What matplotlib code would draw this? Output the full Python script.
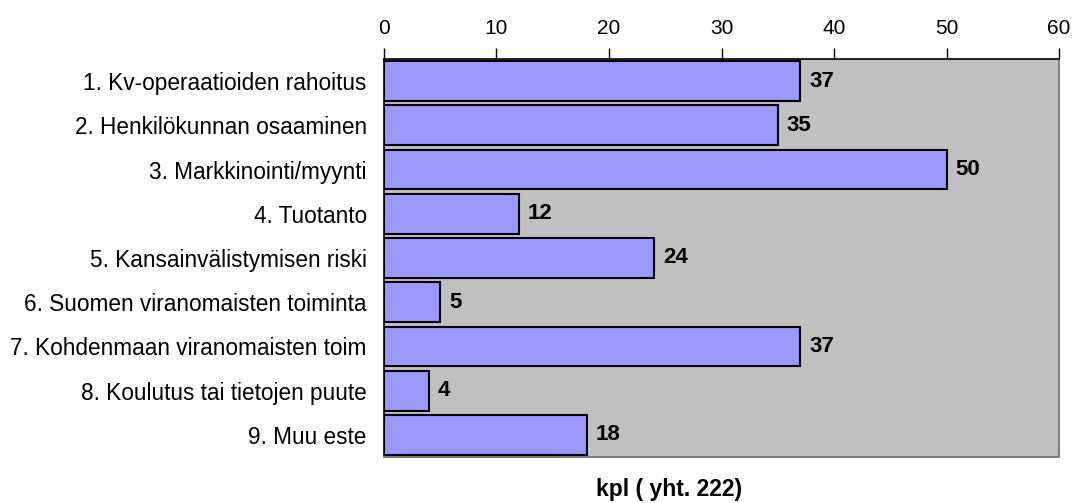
import matplotlib.pyplot as plt
import numpy as np

plt.rcParams['font.family'] = ['Liberation Sans', 'DejaVu Sans']

# Este-kategoriat ja vastausten lukumäärät
categories = [
    "1. Kv-operaatioiden rahoitus",
    "2. Henkilökunnan osaaminen",
    "3. Markkinointi/myynti",
    "4. Tuotanto",
    "5. Kansainvälistymisen riski",
    "6. Suomen viranomaisten toiminta",
    "7. Kohdenmaan viranomaisten toim",
    "8. Koulutus tai tietojen puute",
    "9. Muu este",
]
counts = [37, 35, 50, 12, 24, 5, 37, 4, 18]
xticks = [0, 10, 20, 30, 40, 50, 60]

fig = plt.figure(figsize=(10.72, 5.03), dpi=100)
ax = fig.add_axes([0.3582, 0.0915, 0.6297, 0.7912])
ax.set_facecolor('#C0C0C0')

y = np.arange(len(categories))
ax.barh(y, counts, height=0.9, color='#9999FF', edgecolor='black', linewidth=1.5, zorder=3)

for yi, v in zip(y, counts):
    ax.text(v + 0.8, yi, str(v), va='center', ha='left', fontsize=16, fontweight='bold', zorder=4)

ax.set_xlim(0, 60)
ax.set_ylim(len(categories) - 0.5, -0.5)
ax.set_yticks(y)
ax.set_yticklabels(categories, fontsize=16.3)
ax.set_xticks(xticks)
ax.xaxis.tick_top()
ax.tick_params(axis='x', direction='out', length=8, width=1, labelsize=15, pad=7)
ax.tick_params(axis='y', length=0, pad=12.5)

for side in ['top', 'left']:
    ax.spines[side].set_color('black')
    ax.spines[side].set_linewidth(1.2)
for side in ['right', 'bottom']:
    ax.spines[side].set_color('#808080')
    ax.spines[side].set_linewidth(1.5)

fig.text(0.624, 0.026, "kpl ( yht. 222)", ha='center', va='center', fontsize=16.5, fontweight='bold')

fig.savefig('out.png', dpi=100)
